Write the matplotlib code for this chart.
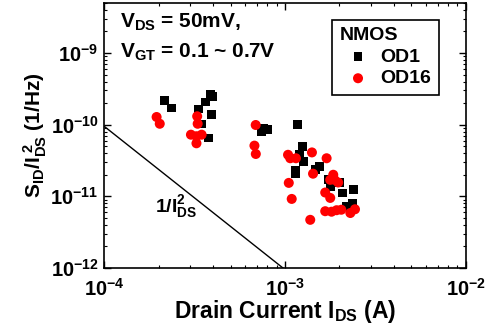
import matplotlib
import numpy as np

matplotlib.use("Agg")
import matplotlib.pyplot as plt  # noqa: E402
from matplotlib.ticker import LogLocator, NullFormatter  # noqa: E402

plt.rcParams["font.family"] = ["Liberation Sans", "DejaVu Sans"]
plt.rcParams["font.weight"] = "bold"
plt.rcParams["mathtext.fontset"] = "custom"
plt.rcParams["mathtext.rm"] = "Liberation Sans:bold"
plt.rcParams["mathtext.it"] = "Liberation Sans:bold"
plt.rcParams["mathtext.bf"] = "Liberation Sans:bold"

FS = 15

# OD1 (black squares): drain current (A) and normalised noise (1/Hz)
od1_ids = [2.15e-4, 2.36e-4, 3.34e-4, 3.64e-4, 3.88e-4, 3.98e-4, 3.93e-4, 3.46e-4,
           3.77e-4, 7.43e-4, 7.6e-4, 8.0e-4, 1.17e-3, 1.25e-3, 1.2e-3, 1.27e-3,
           1.14e-3, 1.14e-3, 1.56e-3, 1.47e-3, 1.74e-3, 1.78e-3, 1.85e-3, 2.0e-3,
           2.08e-3, 2.39e-3, 2.18e-3, 2.36e-3]
od1_s = [2.16e-10, 1.71e-10, 1.65e-10, 2.07e-10, 2.62e-10, 2.5e-10, 1.38e-10, 1.02e-10,
         6.5e-11, 8.1e-11, 8.9e-11, 8.5e-11, 1.0e-10, 5.0e-11, 3.8e-11, 3.1e-11,
         2.28e-11, 2.07e-11, 2.62e-11, 2.35e-11, 1.71e-11, 1.38e-11, 1.8e-11, 1.56e-11,
         1.11e-11, 1.24e-11, 7.2e-12, 7.9e-12]

# OD16 (red circles)
od16_ids = [1.95e-4, 2.03e-4, 3.27e-4, 3.29e-4, 3.02e-4, 3.24e-4, 3.46e-4, 3.24e-4,
            6.89e-4, 6.78e-4, 6.9e-4, 1.04e-3, 1.07e-3, 1.15e-3, 1.05e-3, 1.09e-3,
            1.41e-3, 1.43e-3, 1.38e-3, 1.70e-3, 1.67e-3, 1.78e-3, 1.85e-3, 1.88e-3,
            1.97e-3, 1.78e-3, 1.67e-3, 1.81e-3, 1.93e-3, 2.05e-3, 2.3e-3, 2.44e-3]
od16_s = [1.28e-10, 1.03e-10, 1.31e-10, 1.03e-10, 7.25e-11, 6.9e-11, 7.25e-11, 5.5e-11,
          9.9e-11, 5.1e-11, 3.9e-11, 3.8e-11, 3.4e-11, 3.4e-11, 1.54e-11, 9.2e-12,
          4.1e-11, 2.07e-11, 4.7e-12, 3.4e-11, 1.13e-11, 1.7e-11, 2.0e-11, 1.7e-11,
          1.56e-11, 9.5e-12, 6.2e-12, 6.1e-12, 6.4e-12, 6.5e-12, 5.85e-12, 6.6e-12]

# 1/I^2 reference line
ref_ids = [1e-4, 1e-3]
ref_coef = 9.5e-19

fig = plt.figure(figsize=(4.96, 3.28), dpi=100)
ax = fig.add_axes([0.21, 0.183, 0.729, 0.808])

ax.plot(ref_ids, [ref_coef / i ** 2 for i in ref_ids], color="black", lw=1.0)
ax.scatter(od1_ids, od1_s, marker="s", s=40, color="black", edgecolors="none",
           label="OD1", zorder=3)
ax.scatter(od16_ids, od16_s, marker="o", s=52, color="#ff0000", edgecolors="none",
           label="OD16", zorder=3)

ax.set_xscale("log")
ax.set_yscale("log")
ax.set_xlim(1e-4, 1e-2)
ax.set_ylim(1e-12, 5e-9)
ax.xaxis.set_major_locator(LogLocator(base=10, numticks=10))
ax.yaxis.set_major_locator(LogLocator(base=10, numticks=10))
ax.xaxis.set_minor_locator(LogLocator(base=10, subs=np.arange(2, 10), numticks=20))
ax.yaxis.set_minor_locator(LogLocator(base=10, subs=np.arange(2, 10), numticks=20))
ax.xaxis.set_minor_formatter(NullFormatter())
ax.yaxis.set_minor_formatter(NullFormatter())
ax.tick_params(which="both", direction="in", top=True, right=True, labelsize=14.5)
ax.tick_params(which="major", length=5, width=1)
ax.tick_params(axis="x", which="major", pad=7)
ax.tick_params(axis="y", which="major", pad=4)
ax.tick_params(which="minor", length=2.5, width=0.8)
for sp in ax.spines.values():
    sp.set_linewidth(1.2)

ax.set_xlabel(r"Drain Current I$_{DS}$ (A)", fontsize=16.5, fontweight="bold", labelpad=-1)
ax.set_ylabel(r"S$_{ID}$/I$_{DS}^{\ 2}$ (1/Hz)", fontsize=FS, fontweight="bold", labelpad=1)

ax.text(0.045, 0.928, r"V$_{DS}$ = 50mV,", transform=ax.transAxes, fontsize=FS,
        fontweight="bold", va="center")
ax.text(0.045, 0.815, r"V$_{GT}$ = 0.1 ~ 0.7V", transform=ax.transAxes, fontsize=FS,
        fontweight="bold", va="center")
ax.text(2.5e-4, 7.1e-12, r"1/I$_{DS}^{2}$", fontsize=14, fontweight="bold",
        ha="center", va="center")

leg = ax.legend(title="NMOS", loc="upper right", fontsize=14, title_fontsize=14,
                fancybox=False, frameon=True, edgecolor="black", framealpha=1,
                handletextpad=0.2, borderpad=0.4, labelspacing=0.2,
                markerscale=1.0, handlelength=1.9, bbox_to_anchor=(0.953, 0.974))
leg.get_frame().set_linewidth(1.2)
leg._legend_box.align = "left"
leg.get_title().set_fontweight("bold")

fig.savefig("out.png", dpi=100)
